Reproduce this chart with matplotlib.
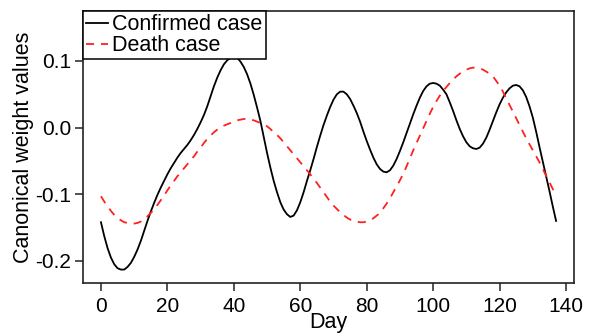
import matplotlib
matplotlib.use("Agg")
import matplotlib.pyplot as plt

plt.rcParams['font.family'] = ['Liberation Sans', 'DejaVu Sans']

days = list(range(0, 138))

confirmed = [
    -0.142, -0.163, -0.181, -0.195, -0.205, -0.211, -0.213, -0.213, -0.209, -0.203,
    -0.194, -0.183, -0.170, -0.155, -0.140, -0.126, -0.113, -0.101, -0.090, -0.080,
    -0.070, -0.061, -0.053, -0.045, -0.038, -0.032, -0.026, -0.019, -0.011, -0.002,
    0.008, 0.019, 0.032, 0.047, 0.062, 0.075, 0.086, 0.095, 0.101, 0.105,
    0.107, 0.105, 0.099, 0.091, 0.080, 0.066, 0.049, 0.030, 0.010, -0.014,
    -0.038, -0.060, -0.080, -0.097, -0.112, -0.123, -0.130, -0.134, -0.132, -0.124,
    -0.112, -0.097, -0.080, -0.064, -0.047, -0.029, -0.012, 0.004, 0.018, 0.031,
    0.042, 0.050, 0.054, 0.054, 0.050, 0.043, 0.033, 0.022, 0.009, -0.006,
    -0.020, -0.033, -0.045, -0.055, -0.062, -0.066, -0.067, -0.064, -0.057, -0.047,
    -0.035, -0.022, -0.008, 0.006, 0.020, 0.033, 0.045, 0.055, 0.062, 0.066,
    0.067, 0.066, 0.063, 0.057, 0.050, 0.038, 0.025, 0.011, -0.002, -0.013,
    -0.022, -0.028, -0.031, -0.032, -0.030, -0.024, -0.015, -0.003, 0.010, 0.023,
    0.035, 0.045, 0.053, 0.059, 0.063, 0.064, 0.062, 0.056, 0.046, 0.032,
    0.015, -0.006, -0.029, -0.051, -0.073, -0.095, -0.118, -0.140]

death = [
    -0.103, -0.111, -0.118, -0.125, -0.131, -0.136, -0.139, -0.142, -0.143, -0.144,
    -0.144, -0.143, -0.141, -0.137, -0.133, -0.128, -0.123, -0.116, -0.109, -0.102,
    -0.094, -0.087, -0.080, -0.073, -0.067, -0.061, -0.055, -0.049, -0.043, -0.036,
    -0.030, -0.023, -0.017, -0.012, -0.007, -0.003, 0.000, 0.003, 0.005, 0.007,
    0.009, 0.011, 0.012, 0.013, 0.013, 0.012, 0.011, 0.009, 0.007, 0.005,
    0.002, -0.002, -0.007, -0.011, -0.016, -0.022, -0.028, -0.034, -0.040, -0.046,
    -0.052, -0.058, -0.064, -0.070, -0.077, -0.083, -0.090, -0.097, -0.104, -0.111,
    -0.117, -0.122, -0.127, -0.131, -0.135, -0.138, -0.140, -0.141, -0.142, -0.142,
    -0.141, -0.139, -0.136, -0.132, -0.128, -0.121, -0.114, -0.106, -0.097, -0.088,
    -0.079, -0.069, -0.058, -0.046, -0.034, -0.023, -0.012, -0.001, 0.010, 0.021,
    0.031, 0.040, 0.048, 0.055, 0.061, 0.067, 0.072, 0.077, 0.081, 0.084,
    0.087, 0.089, 0.090, 0.090, 0.089, 0.087, 0.084, 0.081, 0.077, 0.070,
    0.063, 0.054, 0.044, 0.034, 0.024, 0.014, 0.004, -0.006, -0.016, -0.025,
    -0.034, -0.043, -0.052, -0.062, -0.072, -0.082, -0.092, -0.100]

xticks = [0, 20, 40, 60, 80, 100, 120, 140]
yticks = [-0.2, -0.1, 0.0, 0.1]
ytick_labels = ['-0.2', '-0.1', '0.0', '0.1']

fig = plt.figure(figsize=(5.93, 3.34), dpi=100)
ax = fig.add_axes([0.140, 0.153, 0.828, 0.814])

ax.plot(days, confirmed, color='black', lw=1.3, label='Confirmed case')
ax.plot(days, death, color='#ff2020', lw=1.3, ls=(0, (4.5, 3.8)), label='Death case')

ax.set_xlim(-5.4, 142.4)
ax.set_ylim(-0.233, 0.175)
ax.set_xticks(xticks)
ax.set_yticks(yticks)
ax.set_yticklabels(ytick_labels)
ax.tick_params(direction='out', length=5.5, width=1.1, labelsize=15, pad=3,
               top=False, right=False, color='#222222')
ax.tick_params(axis='x', pad=4.5)
for s in ax.spines.values():
    s.set_linewidth(1.2)
    s.set_color('#222222')

ax.set_xlabel('Day', fontsize=15.5, labelpad=-2.5)
ax.set_ylabel('Canonical weight values', fontsize=15.5, labelpad=1)

leg = ax.legend(loc='upper left', bbox_to_anchor=(0, 1), borderaxespad=0,
                fontsize=15.5, handlelength=1.0, handletextpad=0.2,
                borderpad=0.15, labelspacing=0.0, fancybox=False,
                framealpha=1, edgecolor='black')
leg.get_frame().set_linewidth(1.1)

fig.savefig('out.png', dpi=100)
